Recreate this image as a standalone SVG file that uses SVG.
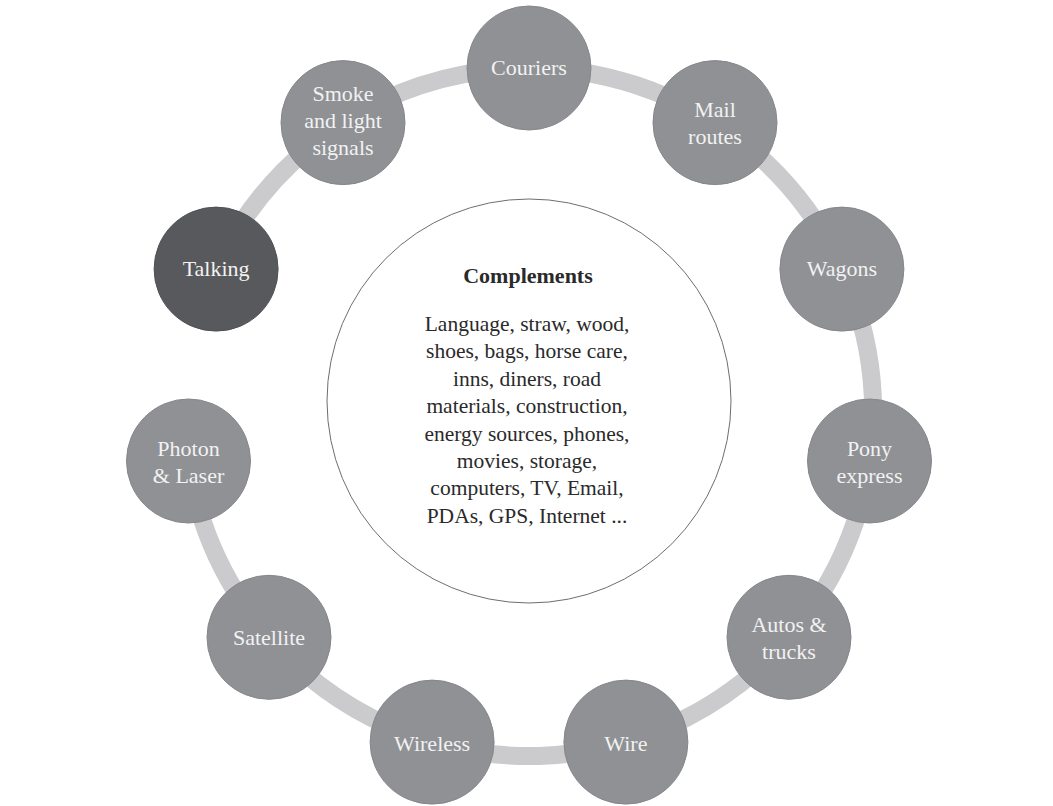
<svg xmlns="http://www.w3.org/2000/svg" width="1053" height="806" viewBox="0 0 1053 806">
  <style>
    .ring { fill: none; stroke: #cbcbcd; stroke-width: 18; }
    .node { fill: #8f9195; stroke: #85878b; stroke-width: 1; }
    .node.dark { fill: #58595c; stroke: #4f5053; }
    .lbl { font-family: "Liberation Serif", "DejaVu Serif", serif; font-size: 22px; fill: #f2f2f2; text-anchor: middle; }
    .hub { fill: #ffffff; stroke: #6e6e6e; stroke-width: 1; }
    .title { font-family: "Liberation Serif", "DejaVu Serif", serif; font-size: 22px; font-weight: bold; fill: #2a2a2a; text-anchor: middle; }
    .body { font-family: "Liberation Serif", "DejaVu Serif", serif; font-size: 21.5px; fill: #2a2a2a; text-anchor: middle; }
  </style>
  <rect width="1053" height="806" fill="#ffffff"/>

  <!-- ring linking the stages, open between Photon & Laser and Talking -->
  <g id="connectors">
    <path class="ring" d="M216.1,269.1 A344,344 0 1 1 188.5,461.0"/>
  </g>

  <!-- central complements circle -->
  <g id="complements">
    <circle class="hub" cx="529" cy="401" r="202"/>
    <text class="title" x="528" y="283">Complements</text>
    <text class="body" x="527" y="331">Language, straw, wood,</text>
    <text class="body" x="527" y="358.4">shoes, bags, horse care,</text>
    <text class="body" x="527" y="385.8">inns, diners, road</text>
    <text class="body" x="527" y="413.2">materials, construction,</text>
    <text class="body" x="527" y="440.6">energy sources, phones,</text>
    <text class="body" x="527" y="468">movies, storage,</text>
    <text class="body" x="527" y="495.4">computers, TV, Email,</text>
    <text class="body" x="527" y="522.8">PDAs, GPS, Internet ...</text>
  </g>

  <g id="couriers">
    <circle class="node" cx="529" cy="68" r="62"/>
    <text class="lbl" x="529" y="75">Couriers</text>
  </g>
  <g id="mail-routes">
    <circle class="node" cx="715" cy="122.6" r="62"/>
    <text class="lbl" x="715" y="117">Mail</text>
    <text class="lbl" x="715" y="144">routes</text>
  </g>
  <g id="wagons">
    <circle class="node" cx="841.9" cy="269.1" r="62"/>
    <text class="lbl" x="841.9" y="276">Wagons</text>
  </g>
  <g id="pony-express">
    <circle class="node" cx="869.5" cy="461" r="62"/>
    <text class="lbl" x="869.5" y="456">Pony</text>
    <text class="lbl" x="869.5" y="483">express</text>
  </g>
  <g id="autos-trucks">
    <circle class="node" cx="789" cy="637.3" r="62"/>
    <text class="lbl" x="789" y="632">Autos &amp;</text>
    <text class="lbl" x="789" y="659">trucks</text>
  </g>
  <g id="wire">
    <circle class="node" cx="625.9" cy="742.1" r="62"/>
    <text class="lbl" x="625.9" y="751">Wire</text>
  </g>
  <g id="wireless">
    <circle class="node" cx="432.1" cy="742.1" r="62"/>
    <text class="lbl" x="432.1" y="751">Wireless</text>
  </g>
  <g id="satellite">
    <circle class="node" cx="269" cy="637.3" r="62"/>
    <text class="lbl" x="269" y="645">Satellite</text>
  </g>
  <g id="photon-laser">
    <circle class="node" cx="188.5" cy="461" r="62"/>
    <text class="lbl" x="188.5" y="456">Photon</text>
    <text class="lbl" x="188.5" y="483">&amp; Laser</text>
  </g>
  <g id="talking">
    <circle class="node dark" cx="216.1" cy="269.1" r="62"/>
    <text class="lbl" x="216.1" y="276">Talking</text>
  </g>
  <g id="smoke-light-signals">
    <circle class="node" cx="343" cy="122.6" r="62"/>
    <text class="lbl" x="343" y="101">Smoke</text>
    <text class="lbl" x="343" y="128">and light</text>
    <text class="lbl" x="343" y="155">signals</text>
  </g>
</svg>
